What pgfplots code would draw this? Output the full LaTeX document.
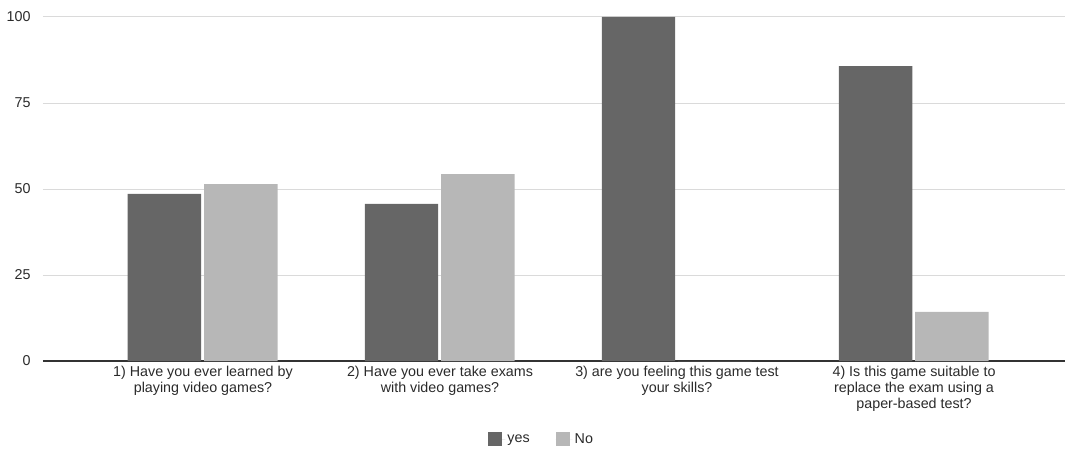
\documentclass[border=0pt]{standalone}
\usepackage{fontspec}
\setmainfont{Liberation Sans}
\usepackage{pgfplots}
\pgfplotsset{compat=1.18}
\definecolor{yescol}{HTML}{666666}
\definecolor{nocol}{HTML}{B7B7B7}
\definecolor{gridcol}{HTML}{DADADA}
\definecolor{txt}{HTML}{2A2A2A}
\definecolor{axcol}{HTML}{333333}
\pgfplotsset{sqlegend/.style={legend image code/.code={\path[##1, draw=none] (0pt,-7pt) rectangle (14pt,7pt); \path (0pt,0pt) -- (17pt,0pt);}}}
\begin{document}
\begin{tikzpicture}
\path[use as bounding box] (-43pt,-89pt) rectangle (1024pt,361pt);
\begin{axis}[
  at={(0pt,0pt)}, anchor=south west,
  scale only axis, width=1022pt, height=344pt,
  xmin=-0.675, xmax=3.637, ymin=0, ymax=100,
  ytick={0,25,50,75,100},
  xtick={0,1,2,3},
  xticklabels={{1) Have you ever learned by\\playing video games?},
               {2) Have you ever take exams\\with video games?},
               {3) are you feeling this game test\\your skills?},
               {4) Is this game suitable to\\replace the exam using a\\paper-based test?}},
  axis lines*=left,
  y axis line style={draw=none},
  x axis line style={draw=axcol, line width=1.3pt},
  ymajorgrids, grid style={gridcol, line width=1pt},
  major tick length=0pt,
  /pgf/number format/assume math mode=true,
  tick label style={font=\fontsize{14.3}{16}\selectfont, text=txt},
  xticklabel style={align=center, yshift=-2pt},
  yticklabel style={xshift=-9pt},
  ybar, bar width=0.31,
  legend style={at={(axis description cs:0.488,-0.227)}, anchor=center, draw=none,
    font=\fontsize{14.3}{16}\selectfont, text=txt, legend columns=-1,
    /tikz/every even column/.append style={column sep=24pt}},
]
\addplot[fill=yescol, draw=none, bar shift=-0.1625, sqlegend] coordinates {(0,48.57) (1,45.71) (2,100) (3,85.71)};
\addplot[fill=nocol, draw=none, bar shift=0.16, sqlegend] coordinates {(0,51.43) (1,54.29) (2,0) (3,14.29)};
\legend{yes, No}
\end{axis}
\end{tikzpicture}
\end{document}
